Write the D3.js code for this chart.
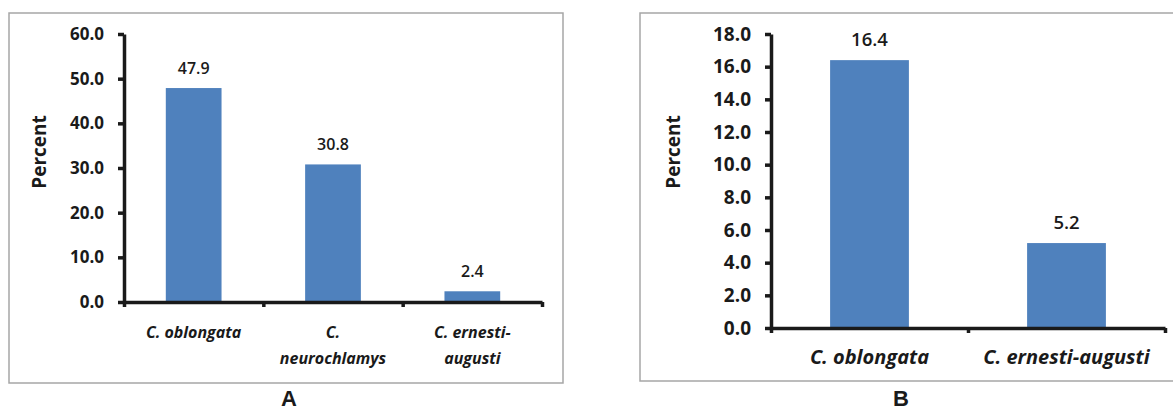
<!DOCTYPE html>
<html>
<head>
<meta charset="utf-8">
<script src="https://cdn.jsdelivr.net/npm/d3@7"></script>
<style>
	body { margin: 0; background: #fff; }
	svg { display: block; }
</style>
</head>
<body>
<div id="chart"></div>
<script>

// panel A
const categoriesA = [ [ "C. oblongata" ], [ "C.", "neurochlamys" ], [ "C. ernesti-", "augusti" ] ];
const valuesA = [ 47.9, 30.8, 2.4 ];
const ticksA = [ 0, 10, 20, 30, 40, 50, 60 ];

// panel B
const categoriesB = [ [ "C. oblongata" ], [ "C. ernesti-augusti" ] ];
const valuesB = [ 16.4, 5.2 ];
const ticksB = [ 0, 2, 4, 6, 8, 10, 12, 14, 16, 18 ];

const panelLetters = [ "A", "B" ];

///////////////////////////////////////////////////////////////////////

const svg = d3.select( "#chart" )
	.append( "svg" )
	.attr( "width", 1173 )
	.attr( "height", 412 );

const FONT = "'Open Sans', 'Noto Sans', sans-serif";
const BAR = "#4f81bd";

draw_panel( {
	box: [ 9, 13, 563, 383 ],
	plot: [ 124, 34, 542, 302 ],
	cats: categoriesA, vals: valuesA, ticks: ticksA,
	tickFont: 17, valFont: 16, catFont: 16, lineGap: 26, catY: 338,
	percentX: 39, letter: panelLetters[ 0 ], letterX: 289, letterY: 406
} );

draw_panel( {
	box: [ 640, 13, 1180, 381 ],
	plot: [ 771, 34, 1165, 328 ],
	cats: categoriesB, vals: valuesB, ticks: ticksB,
	tickFont: 19, valFont: 18.5, catFont: 20, lineGap: 26, catY: 364,
	percentX: 673, letter: panelLetters[ 1 ], letterX: 901, letterY: 406
} );

function draw_panel( p )	{

	let g = svg.append( "g" );
	let [ x0, y0, x1, y1 ] = p.plot;

	g.append( "rect" )
		.attr( "x", p.box[ 0 ] )
		.attr( "y", p.box[ 1 ] )
		.attr( "width", p.box[ 2 ] - p.box[ 0 ] )
		.attr( "height", p.box[ 3 ] - p.box[ 1 ] )
		.attr( "fill", "none" )
		.attr( "stroke", "#a6a6a6" )
		.attr( "stroke-width", 1.5 );

	let X = d3.scaleBand()
		.domain( d3.range( p.vals.length ) )
		.range( [ x0, x1 ] )
		.paddingInner( 0.6 )
		.paddingOuter( 0.3 );

	let Y = d3.scaleLinear()
		.domain( [ 0, d3.max( p.ticks ) ] )
		.range( [ y1, y0 ] );

	g.selectAll( "rect.bar" )
		.data( p.vals )
		.join( "rect" )
			.attr( "class", "bar" )
			.attr( "x", ( d, i ) => X( i ) )
			.attr( "y", d => Y( d ) )
			.attr( "width", X.bandwidth() )
			.attr( "height", d => Y( 0 ) - Y( d ) )
			.attr( "fill", BAR );

	g.selectAll( "text.val" )
		.data( p.vals )
		.join( "text" )
			.attr( "class", "val" )
			.attr( "x", ( d, i ) => X( i ) + X.bandwidth() / 2 )
			.attr( "y", d => Y( d ) - 14 )
			.attr( "text-anchor", "middle" )
			.attr( "font-family", FONT )
			.attr( "font-weight", 600 )
			.attr( "font-size", p.valFont )
			.attr( "fill", "#1a1a1a" )
			.text( d => d.toFixed( 1 ) );

	// y axis
	let yAxis = g.append( "g" )
		.attr( "transform", "translate(" + x0 + ",0)" )
		.call( d3.axisLeft( Y )
			.tickValues( p.ticks )
			.tickSize( 6 )
			.tickSizeOuter( 0 )
			.tickPadding( 14 )
			.tickFormat( d3.format( ".1f" ) ) );

	// x axis: ticks sit on category boundaries
	let B = d3.scaleLinear().domain( [ 0, p.vals.length ] ).range( [ x0, x1 ] );
	let xAxis = g.append( "g" )
		.attr( "transform", "translate(0," + y1 + ")" )
		.call( d3.axisBottom( B )
			.tickValues( d3.range( p.vals.length + 1 ) )
			.tickSize( 5 )
			.tickSizeOuter( 0 )
			.tickFormat( "" ) );

	for( let ax of [ yAxis, xAxis ] )	{
		ax.select( ".domain" ).attr( "stroke", "#1a1a1a" ).attr( "stroke-width", 3.5 );
		ax.selectAll( ".tick line" ).attr( "stroke", "#1a1a1a" ).attr( "stroke-width", 3.5 );
	}
	yAxis.selectAll( ".tick text" )
		.attr( "font-family", FONT )
		.attr( "font-weight", 700 )
		.attr( "font-size", p.tickFont )
		.attr( "fill", "#1a1a1a" );

	// category labels
	p.cats.forEach( function( lines, i )	{
		let t = g.append( "text" )
			.attr( "text-anchor", "middle" )
			.attr( "font-family", FONT )
			.attr( "font-weight", 700 )
			.attr( "font-style", "italic" )
			.attr( "font-size", p.catFont )
			.attr( "fill", "#1a1a1a" );
		lines.forEach( function( s, k )	{
			t.append( "tspan" )
				.attr( "x", X( i ) + X.bandwidth() / 2 )
				.attr( "y", p.catY + k * p.lineGap )
				.text( s );
		} );
	} );

	g.append( "text" )
		.attr( "transform", "translate(" + p.percentX + "," + ( 152 ) + ") rotate(-90)" )
		.attr( "text-anchor", "middle" )
		.attr( "dy", "0.35em" )
		.attr( "font-family", FONT )
		.attr( "font-weight", 700 )
		.attr( "font-size", 19 )
		.attr( "fill", "#1a1a1a" )
		.text( "Percent" );

	g.append( "text" )
		.attr( "x", p.letterX )
		.attr( "y", p.letterY )
		.attr( "text-anchor", "middle" )
		.attr( "font-family", "'Liberation Sans', Arial, sans-serif" )
		.attr( "font-weight", 700 )
		.attr( "font-size", 22 )
		.attr( "fill", "#1a1a1a" )
		.text( p.letter );
}

</script>
</body>
</html>
